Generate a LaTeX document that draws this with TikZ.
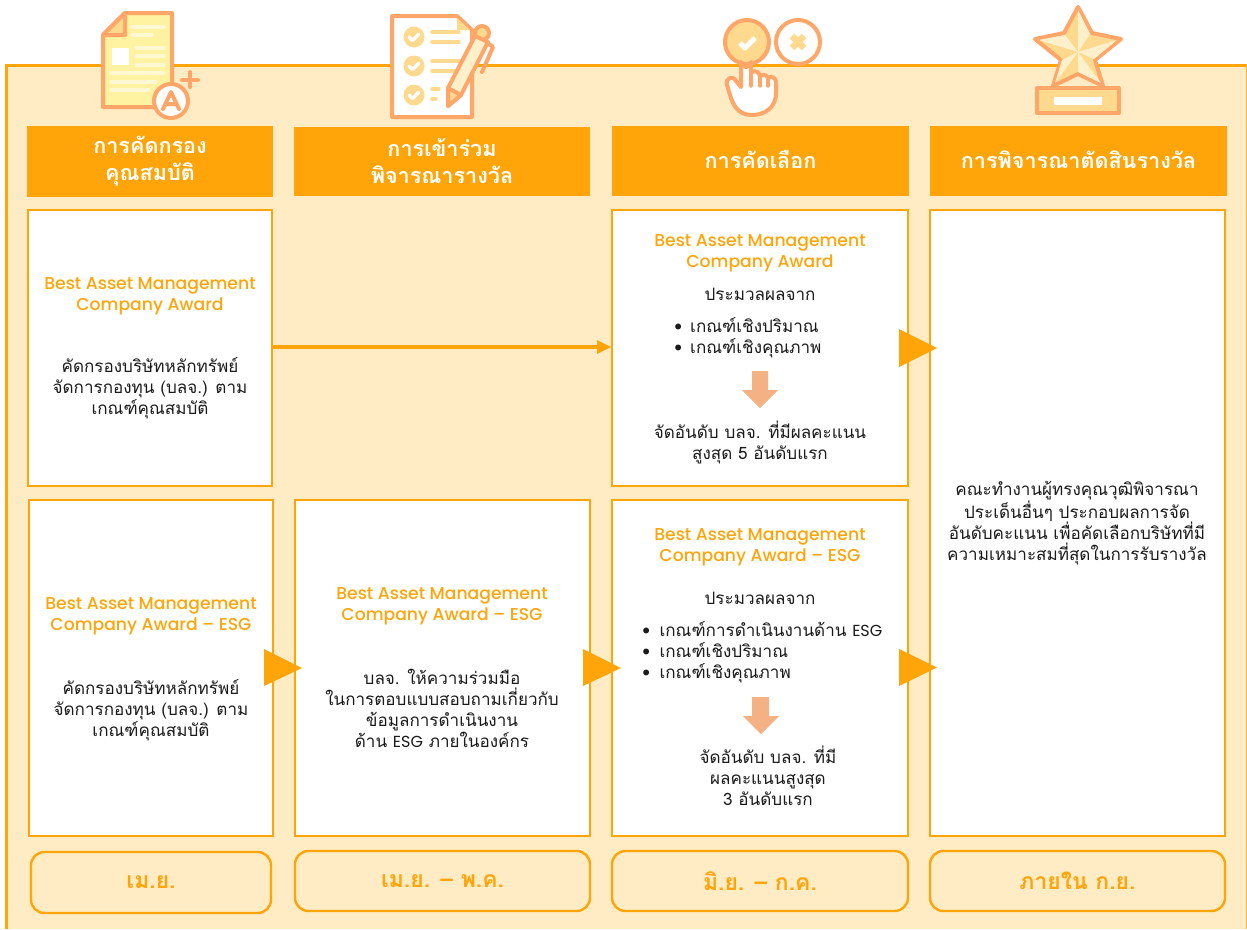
\documentclass[tikz,border=0pt]{standalone}
\usepackage{fontspec}
\setmainfont[Script=Thai]{Loma}
\newfontfamily\latf{Poppins Medium}
\newfontfamily\latr{Poppins}
\newcommand{\en}[1]{{\latr\fontsize{12}{15.75}\selectfont #1}}
\definecolor{org}{HTML}{FFA50A}
\definecolor{bgc}{HTML}{FFEBC4}
\definecolor{icl}{HTML}{FFA668}
\definecolor{icf}{HTML}{FFD98E}
\definecolor{icy}{HTML}{FFF2A0}
\definecolor{icp}{HTML}{FFF8D2}
\definecolor{icc}{HTML}{FFF0CC}
\definecolor{dna}{HTML}{F4B183}
\definecolor{txt}{HTML}{1A1A1A}
\tikzset{
  px/.style={x=0.75pt,y=-0.75pt},
  headbox/.style={fill=org,draw=none,outer sep=0pt,inner sep=0pt,text=white,align=center,font=\fontsize{16.2}{20.25}\selectfont\bfseries},
  panel/.style={fill=white,draw=org,line width=1.8pt,outer sep=0pt,inner sep=0pt},
  pill/.style={fill=bgc,draw=org,line width=1.8pt,outer sep=0pt,rounded corners=10pt,inner sep=0pt,text=org,font=\fontsize{17.2}{20}\selectfont\bfseries},
  awardt/.style={inner sep=0pt,align=center,text=org,font=\latf\fontsize{12.9}{15.75}\selectfont},
  bodyt/.style={inner sep=0pt,align=center,text=txt,font=\fontsize{12.8}{15.75}\selectfont},
  listt/.style={inner sep=0pt,align=left,text=txt,anchor=west,font=\fontsize{12.8}{15.75}\selectfont},
  flowtri/.style={fill=org,draw=none},
  downa/.style={fill=dna,draw=none},
  ic/.style={draw=icl,line width=3pt,line join=round,line cap=round},
  icthin/.style={draw=icp,line width=2.6pt,line cap=round},
  icfl/.style={draw=icf,line width=2.6pt,line cap=round},
}
\newcommand{\mybox}[6][panel]{\node[#1,minimum width=#4*0.75pt,minimum height=#5*0.75pt,anchor=north west] (#2) at (#3) {#6};}
\begin{document}
\begin{tikzpicture}[px]
\useasboundingbox (0,0) rectangle (1247,929);
\fill[white] (0,0) rectangle (1247,929);
% frame
\fill[bgc] (6,65) rectangle (1247,929);
\draw[org,line width=2pt] (6.5,929) -- (6.5,65.5) -- (1247,65.5);
\draw[org!80!white,line width=1pt] (1246.3,65) -- (1246.3,929);

% icon 1
\begin{scope}
\draw[ic,fill=icy] (103,35) -- (125,13) -- (172,13) -- (172,107) -- (103,107) -- cycle;
\draw[ic,fill=icf] (103,35) -- (125,13) -- (125,35) -- cycle;
\fill[white] (112,48) rectangle (129,65);
\foreach \a/\b/\c in {132/164/27,132/152/35,136/164/48,136/164/56,136/164/65,111/164/73,111/156/82,111/149/90}
  \draw[icthin] (\a,\c) -- (\b,\c);
\draw[ic,fill=white] (171,101) circle (17);
\draw[ic] (163,109) -- (171,92) -- (179,109) (165.5,104) -- (176.5,104);
\draw[ic] (182,80) -- (198,80) (190,72) -- (190,87);
\end{scope}

% icon 2
\begin{scope}
\draw[ic,fill=white] (392,16) -- (457,16) -- (472,30) -- (472,117) -- (392,117) -- cycle;
\fill[icf] (457,18) -- (470,30) -- (457,30) -- cycle;
\foreach \y in {37,66,95} {
  \fill[icf] (414,\y) circle (10.5);
  \draw[white,line width=2.6pt,line cap=round,line join=round] (409,\y) -- (412.5,\y+3.5) -- (419,\y-3);
}
\foreach \a/\b/\c in {432/459/32,432/459/42,432/459/61,432/459/71,432/439/89,432/436/99}
  \draw[icfl] (\a,\c) -- (\b,\c);
\draw[ic] (486,42) -- (493,47) -- (482,72);
\draw[ic,fill=icf] (482,33) circle (7);
\draw[ic,fill=icc] (448,88) -- (475,36) -- (488,42) -- (461,95) -- (448,106) -- cycle;
\draw[ic,fill=icf] (448,88) -- (461,95) -- (448,106) -- cycle;
\end{scope}

% icon 3
\begin{scope}
\draw[ic,fill=icf] (747,42) circle (22);
\draw[white,line width=3.8pt,line join=round] (740,43) -- (745,48) -- (755,38);
\draw[ic,fill=white] (798,42) circle (22);
\draw[icf,line width=5pt] (792,36) -- (804,48) (804,36) -- (792,48);
\draw[ic,fill=white] (741,87) -- (741,62) arc (180:0:5) -- (751,72)
  .. controls (756,70) and (759,72) .. (760,76)
  .. controls (763,74) and (767,75) .. (768,78)
  .. controls (771,76) and (776,77) .. (776,82) -- (776,93)
  .. controls (776,108) and (764,115) .. (752,115)
  .. controls (738,115) and (733,105) .. (730,95)
  -- (727,85) .. controls (725,78) and (733,75) .. (736,81) -- cycle;
\draw[ic,line width=2.6pt] (751,72) -- (751,86) (760,76) -- (760,86) (768,78) -- (768,86);
\end{scope}

% icon 4
\begin{scope}
\coordinate (sc) at (1078,52);
\draw[ic,fill=icf] (1078,7) -- (1092,33) -- (1121,39) -- (1095,60) -- (1103,86) -- (1078,74) -- (1053,86) -- (1061,60) -- (1035,39) -- (1064,33) -- cycle;
\fill[icc] (sc) -- (1078,10) -- (1090,34) -- cycle;
\fill[icc] (sc) -- (1117,40) -- (1094,59) -- cycle;
\fill[icc] (sc) -- (1101,83) -- (1078,72) -- cycle;
\fill[icc] (sc) -- (1055,83) -- (1062,60) -- cycle;
\fill[icc] (sc) -- (1039,40) -- (1065,35) -- cycle;
\draw[ic,fill=icf] (1037,88) rectangle (1119,113);
\fill[white] (1054,97) rectangle (1102,105);
\end{scope}

% headers
\mybox[headbox]{h1}{27,126}{246}{71}{การคัดกรอง\\คุณสมบัติ}
\mybox[headbox]{h2}{294,127}{296}{69}{\raisebox{1pt}{การเข้าร่วม}\\\raisebox{1pt}{พิจารณารางวัล}}
\mybox[headbox]{h3}{612,126}{297}{70}{\raisebox{2pt}{การคัดเลือก}}
\mybox[headbox]{h4}{930,126}{297}{70}{\raisebox{2pt}{การพิจารณาตัดสินรางวัล}}

% panels
\mybox{b1}{28,210}{244}{276}{}
\mybox{b3}{612,210}{296}{276}{}
\mybox{b4}{930,210}{295}{626}{}
\mybox{b5}{29,500}{244}{336}{}
\mybox{b6}{295,500}{295}{336}{}
\mybox{b7}{612,500}{296}{336}{}

% pills
\mybox[pill]{p1}{31,852}{240}{61}{เม.ย.}
\mybox[pill]{p2}{295,851}{295}{60}{เม.ย. – พ.ค.}
\mybox[pill]{p3}{612,851}{296}{60}{มิ.ย. – ก.ค.}
\mybox[pill]{p4}{930,851}{295}{60}{ภายใน ก.ย.}

% connector
\draw[org,line width=3.4pt] (b1.east |- 0,347) -- (598,347);
\fill[org] (597,340) -- (611,347) -- (597,354) -- cycle;

% flow triangles
\fill[flowtri] (899,329) -- (937,348) -- (899,367) -- cycle;
\fill[flowtri] (899,649) -- (937,667.5) -- (899,686) -- cycle;
\fill[flowtri] (264,649) -- (302,668) -- (264,686) -- cycle;
\fill[flowtri] (583,649) -- (621,668) -- (583,686) -- cycle;

% down arrows
\fill[downa] (752,371) -- (768,371) -- (768,390) -- (778,390) -- (760,408) -- (742,390) -- (752,390) -- cycle;
\fill[downa] (752,697) -- (769,697) -- (769,716) -- (779,716) -- (761,734) -- (743,716) -- (752,716) -- cycle;

% texts
\node[awardt] (t1) at (150,296) {Best Asset Management\\Company Award};
\node[bodyt] (c1) at (150,388.5) {คัดกรองบริษัทหลักทรัพย์\\จัดการกองทุน (บลจ.) ตาม\\เกณฑ์คุณสมบัติ};
\node[awardt] (t5) at (151,616) {Best Asset Management\\Company Award – ESG};
\node[bodyt] (c5) at (151,710) {คัดกรองบริษัทหลักทรัพย์\\จัดการกองทุน (บลจ.) ตาม\\เกณฑ์คุณสมบัติ};
\node[awardt] (t6) at (442,606) {Best Asset Management\\Company Award – ESG};
\node[bodyt] (c6) at (442,708) {บลจ. ให้ความร่วมมือ\\ในการตอบแบบสอบถามเกี่ยวกับ\\ข้อมูลการดำเนินงาน\\ด้าน \en{ESG} ภายในองค์กร};
\node[awardt] (t3) at (760,253) {Best Asset Management\\Company Award};
\node[bodyt] (a3) at (760,294) {ประมวลผลจาก};
\node[listt] (l3) at (674,337.5) {•\hspace{6pt}เกณฑ์เชิงปริมาณ\\•\hspace{6pt}เกณฑ์เชิงคุณภาพ};
\node[bodyt] (r3) at (760,442) {จัดอันดับ บลจ. ที่มีผลคะแนน\\สูงสุด 5 อันดับแรก};
\node[awardt] (t7) at (760,547) {Best Asset Management\\Company Award – ESG};
\node[bodyt] (a7) at (760,598) {ประมวลผลจาก};
\node[listt] (l7) at (642,652) {•\hspace{7pt}เกณฑ์การดำเนินงานด้าน \en{ESG}\\•\hspace{7pt}เกณฑ์เชิงปริมาณ\\•\hspace{7pt}เกณฑ์เชิงคุณภาพ};
\node[bodyt] (r7) at (768,776) {จัดอันดับ บลจ. ที่มี\\ผลคะแนนสูงสุด\\3 อันดับแรก};
\node[bodyt] (c4) at (1077,523) {คณะทำงานผู้ทรงคุณวุฒิพิจารณา\\ประเด็นอื่นๆ ประกอบผลการจัด\\อันดับคะแนน เพื่อคัดเลือกบริษัทที่มี\\ความเหมาะสมที่สุดในการรับรางวัล};
\end{tikzpicture}
\end{document}
